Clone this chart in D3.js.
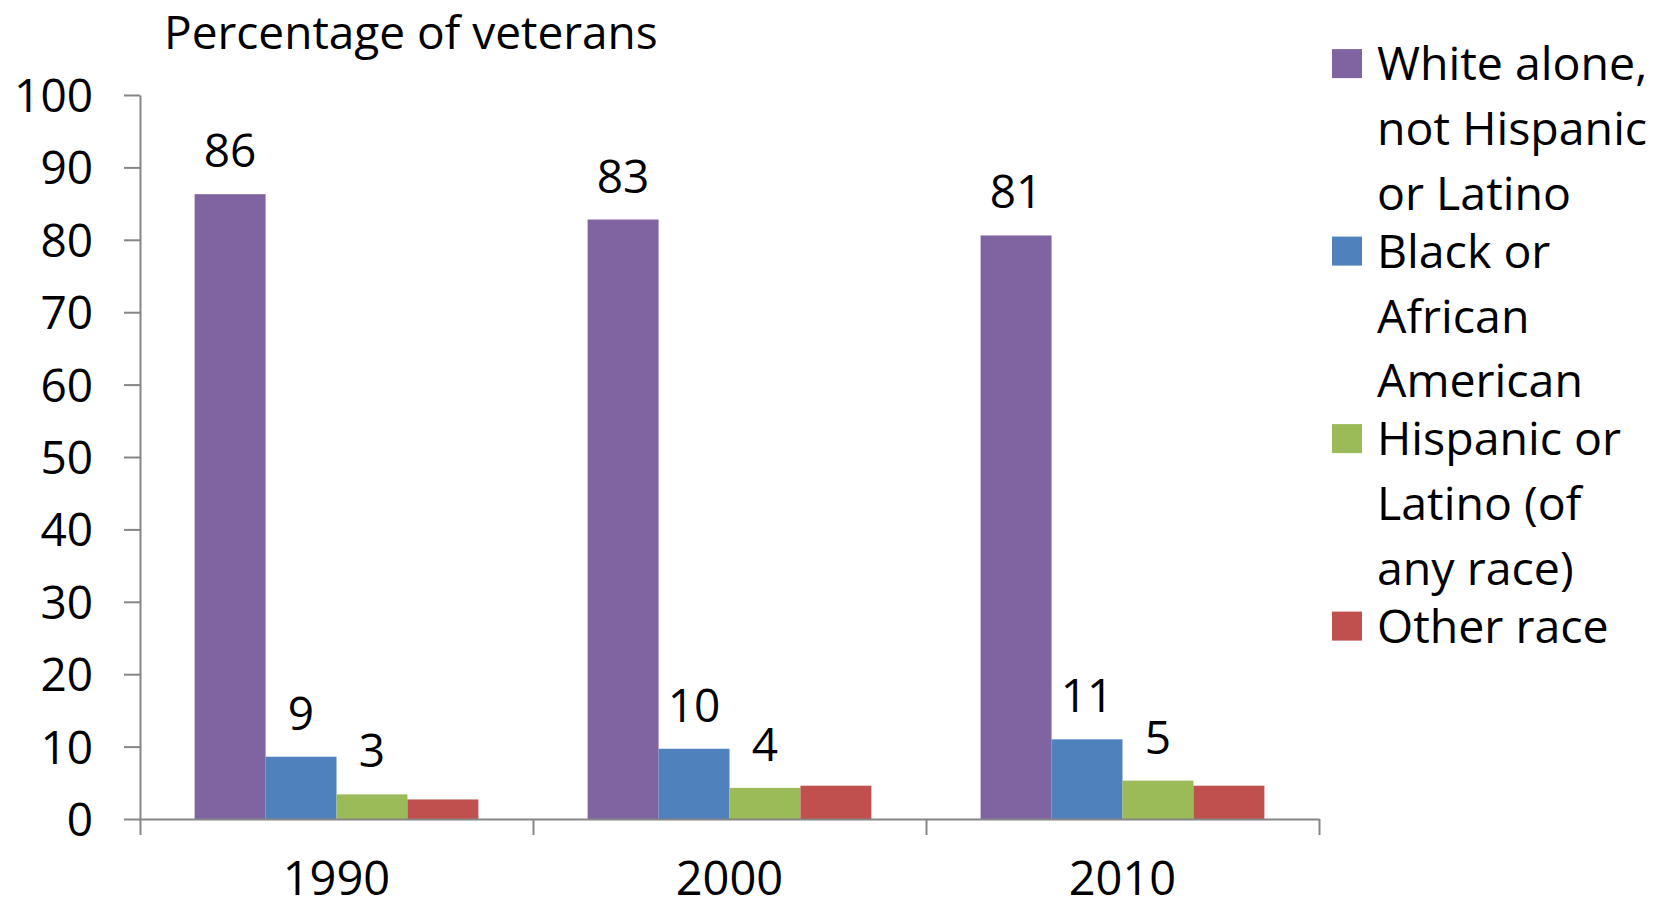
<!DOCTYPE html>
<html>
<head>
<meta charset="utf-8">
<script src="https://cdn.jsdelivr.net/npm/d3@7"></script>
<style>
  body { margin: 0; background: #fff; }
  svg text { font-family: "Open Sans", sans-serif; fill: #000; }
</style>
</head>
<body>
<div id="chartCont"></div>
<script>
// data
let years = ["1990", "2000", "2010"];
let seriesNames = ["White alone, not Hispanic or Latino", "Black or African American",
  "Hispanic or Latino (of any race)", "Other race"];
let legendLines = [
  ["White alone,", "not Hispanic", "or Latino"],
  ["Black or", "African", "American"],
  ["Hispanic or", "Latino (of", "any race)"],
  ["Other race"]
];
let white = [86.3, 82.8, 80.6];
let black = [8.6, 9.7, 11.0];
let hispanic = [3.4, 4.3, 5.3];
let other = [2.7, 4.6, 4.6];
let labelled = [true, true, true, false];
let yTicks = [0, 10, 20, 30, 40, 50, 60, 70, 80, 90, 100];
let colors = ["#8064A2", "#4F81BD", "#9BBB59", "#C0504D"];

(function() {
  let width = 1662,
    height = 908;

  let svg = d3.select("#chartCont")
    .append("svg")
    .attr("width", width)
    .attr("height", height);

  let values = [white, black, hispanic, other];

  // plot area
  let left = 140, right = 1319, top = 95, bottom = 819;

  let x = d3.scaleBand().domain(years).range([left, right]).padding(0);
  let inner = d3.scaleBand().domain(d3.range(seriesNames.length))
    .range([0, x.bandwidth()]).paddingOuter(0.77).paddingInner(0);
  let y = d3.scaleLinear().domain([0, 100]).range([bottom, top]);

  // y axis
  let yAxis = svg.append("g")
    .attr("class", "y-axis")
    .attr("transform", "translate(" + left + ",0)")
    .call(d3.axisLeft(y).tickValues(yTicks).tickSize(16).tickPadding(31).tickSizeOuter(0));
  yAxis.selectAll("text").style("font-size", "46px").attr("dy", "0.36em");

  // bars, one group per year
  let group = svg.selectAll(".year")
    .data(years)
    .enter().append("g")
    .attr("class", "year")
    .attr("transform", function(d) { return "translate(" + x(d) + ",0)"; });

  group.selectAll("rect")
    .data(function(d, i) {
      return values.map(function(s, k) { return { k: k, v: s[i] }; });
    })
    .enter().append("rect")
    .attr("x", function(d) { return inner(d.k); })
    .attr("width", inner.bandwidth())
    .attr("y", function(d) { return y(d.v); })
    .attr("height", function(d) { return bottom - y(d.v); })
    .attr("fill", function(d) { return colors[d.k]; });

  group.selectAll(".val")
    .data(function(d, i) {
      return values.map(function(s, k) { return { k: k, v: s[i] }; })
        .filter(function(d) { return labelled[d.k]; });
    })
    .enter().append("text")
    .attr("class", "val")
    .attr("x", function(d) { return inner(d.k) + inner.bandwidth() / 2; })
    .attr("y", function(d) { return y(d.v) - 27; })
    .attr("text-anchor", "middle")
    .style("font-size", "46px")
    .text(function(d) { return d3.format(".0f")(d.v); });

  // x axis: line + ticks at category edges, labels in the middle
  let edges = d3.scaleLinear().domain([0, years.length]).range([left, right]);
  svg.append("g")
    .attr("class", "x-axis")
    .attr("transform", "translate(0," + bottom + ")")
    .call(d3.axisBottom(edges).tickValues(d3.range(years.length + 1)).tickSize(16).tickSizeOuter(0).tickFormat(""));

  svg.append("g")
    .attr("transform", "translate(0," + bottom + ")")
    .call(d3.axisBottom(x).tickSize(0).tickPadding(43))
    .call(function(g) { g.select(".domain").remove(); })
    .selectAll("text")
    .style("font-size", "47px");

  svg.selectAll(".x-axis path, .x-axis line, .y-axis path, .y-axis line")
    .attr("stroke", "#868686")
    .attr("stroke-width", 2);

  // title
  svg.append("text")
    .attr("x", 164)
    .attr("y", 49)
    .style("font-size", "46px")
    .text("Percentage of veterans");

  // legend
  let lineH = 64.7;
  let legendY = 63.6;
  let legend = svg.append("g").attr("class", "legend");
  legendLines.forEach(function(lines, k) {
    let g = legend.append("g").attr("transform", "translate(1332," + legendY + ")");
    g.append("rect")
      .attr("x", 0)
      .attr("y", -14.5)
      .attr("width", 30)
      .attr("height", 29)
      .attr("fill", colors[k]);
    g.selectAll("text")
      .data(lines)
      .enter().append("text")
      .attr("x", 45)
      .attr("y", function(d, i) { return i * lineH; })
      .attr("dy", "0.36em")
      .style("font-size", "46.5px")
      .text(function(d) { return d; });
    legendY += lines.length * lineH - 6.6;
  });
})();
</script>
</body>
</html>
